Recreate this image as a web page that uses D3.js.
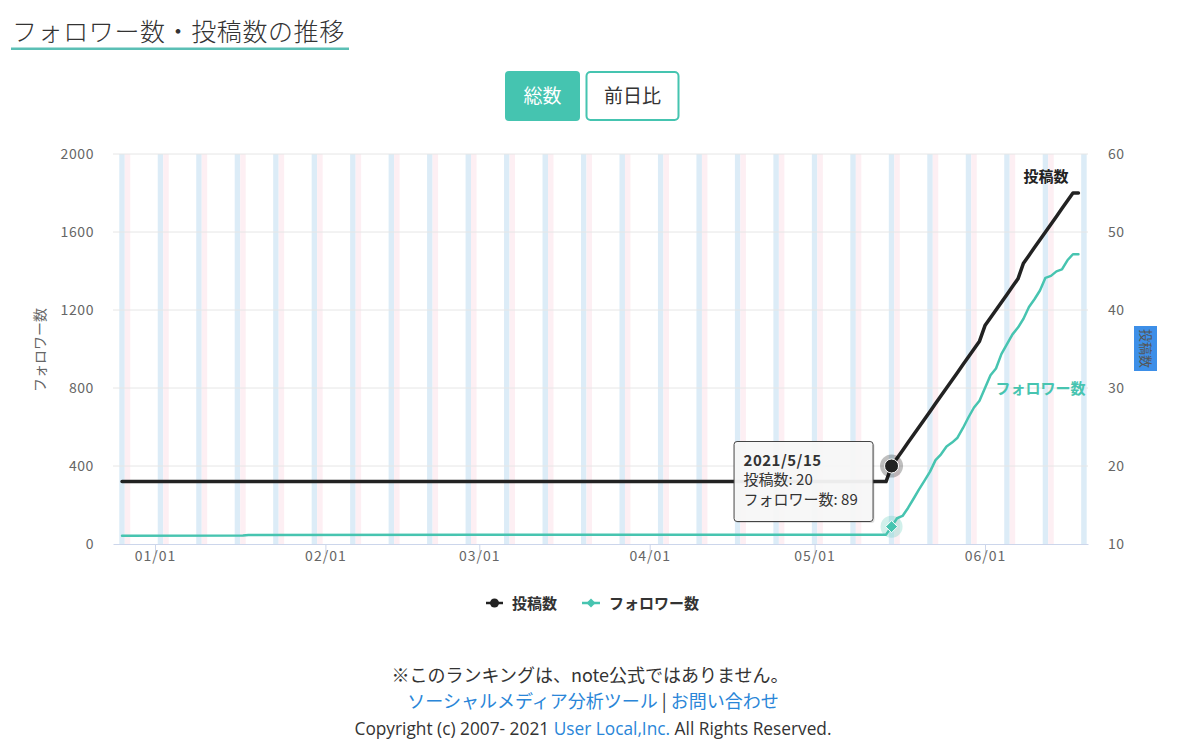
<!DOCTYPE html>
<html><head><meta charset="utf-8">
<script src="https://cdn.jsdelivr.net/npm/d3@7"></script>
<style>
html,body{margin:0;padding:0;background:#fff;}
svg{display:block;font-family:"Noto Sans CJK JP","Noto Sans",sans-serif;}
</style></head>
<body>
<svg id="chart" width="1197" height="742"></svg>
<script>
// ---- data ----
const dates = ["2020-12-26","2021-01-17","2021-01-18","2021-03-01","2021-04-01","2021-05-14",
 "2021-05-15","2021-05-16","2021-05-17","2021-05-18","2021-05-19","2021-05-20","2021-05-21","2021-05-22",
 "2021-05-23","2021-05-24","2021-05-25","2021-05-26","2021-05-27","2021-05-28","2021-05-29","2021-05-30",
 "2021-05-31","2021-06-01","2021-06-02","2021-06-03","2021-06-04","2021-06-05","2021-06-06","2021-06-07",
 "2021-06-08","2021-06-09","2021-06-10","2021-06-11","2021-06-12","2021-06-13","2021-06-14","2021-06-15",
 "2021-06-16","2021-06-17","2021-06-18"];
const posts = [18,18,18,18,18,18,
 20,21,22,23,24,25,26,27,28,29,30,31,32,33,34,35,36,
 38,39,40,41,42,43,44,
 46,47,48,49,50,51,52,53,54,55,55];
const followers = [42,43,46,47,48,48,
 89,132,144,185,232,280,325,371,430,460,500,520,545,595,650,700,735,
 800,865,900,975,1025,1075,1110,1155,1215,1255,1300,1365,1375,1398,1408,1455,1486,1486];
const leftTicks = [0,400,800,1200,1600,2000];
const rightTicks = [10,20,30,40,50,60];
const seriesNames = ["投稿数","フォロワー数"];
const tooltipDate = "2021-05-15";

// ---- setup ----
const parse = d3.timeParse("%Y-%m-%d");
const data = dates.map((d,i)=>({date:parse(d), posts:posts[i], followers:followers[i]}));
const svg = d3.select("#chart");
const L=113, R=1088, T=154, B=544;
const BLACK="#222222", TEAL="#47c4b0";
const TICKFONT="'Noto Sans CJK JP',sans-serif";

const x = d3.scaleTime()
  .domain([new Date(2020,11,24,8,37), new Date(2021,5,19,17,45)])
  .range([L,R]);
const yL = d3.scaleLinear().domain([0,2000]).range([B,T]);
const yR = d3.scaleLinear().domain([10,60]).range([B,T]);

// title
svg.append("text").attr("x",12).attr("y",41).attr("font-size",25).attr("font-weight",300).attr("fill","#333")
  .attr("letter-spacing","0.6px").text("フォロワー数・投稿数の推移");
svg.append("rect").attr("x",11).attr("y",47.5).attr("width",338).attr("height",2.5).attr("fill","#5bbfb5");

// buttons
svg.append("rect").attr("x",505).attr("y",71).attr("width",75).attr("height",50).attr("rx",4).attr("fill","#45c4b0");
svg.append("text").attr("x",542.5).attr("y",103).attr("text-anchor","middle").attr("font-size",19).attr("fill","#fff").text("総数");
svg.append("rect").attr("x",586.5).attr("y",72).attr("width",92).attr("height",48).attr("rx",4).attr("fill","#fff")
  .attr("stroke","#45c4b0").attr("stroke-width",2);
svg.append("text").attr("x",632.5).attr("y",103).attr("text-anchor","middle").attr("font-size",19).attr("fill","#333").text("前日比");

// weekend bands
const g = svg.append("g");
const days = d3.timeDay.range(d3.timeDay.floor(x.domain()[0]), x.domain()[1]);
days.forEach(d=>{
  const wd = d.getDay();
  if(wd!==6 && wd!==0) return;
  let x0 = x(new Date(+d - 12*3600e3)), x1 = x(new Date(+d + 12*3600e3));
  x0 = Math.max(L,x0); x1 = Math.min(R,x1);
  if(x1<=x0) return;
  g.append("rect").attr("x",x0).attr("y",T).attr("width",x1-x0).attr("height",B-T)
    .attr("fill", wd===6 ? "#dcecf7" : "#fdeff3");
});

// grid
leftTicks.forEach(t=>{
  if(t===0) return;
  g.append("line").attr("x1",L).attr("x2",R).attr("y1",yL(t)).attr("y2",yL(t))
    .attr("stroke","#e6e6e6").attr("stroke-width",1);
});

// x axis
const xAxis = d3.axisBottom(x).ticks(d3.timeMonth.every(1)).tickFormat(d3.timeFormat("%m/%d")).tickSize(10).tickSizeOuter(0);
const xg = svg.append("g").attr("transform",`translate(0,${B})`).call(xAxis);
xg.select(".domain").attr("stroke","#ccd6eb");
xg.selectAll(".tick line").attr("stroke","#ccd6eb");
xg.selectAll(".tick text").attr("font-size",14).attr("fill","#666").attr("letter-spacing","1px")
  .attr("font-family",TICKFONT).attr("dy","0.2em").attr("y",14);

// left axis
const lg = svg.append("g").attr("transform",`translate(${L},0)`)
  .call(d3.axisLeft(yL).tickValues(leftTicks).tickFormat(d3.format("d")).tickSize(0).tickPadding(19));
lg.select(".domain").remove();
lg.selectAll(".tick text").attr("font-size",14).attr("fill","#666").attr("letter-spacing","0.6px")
  .attr("font-family",TICKFONT);
// right axis
const rg = svg.append("g").attr("transform",`translate(${R},0)`)
  .call(d3.axisRight(yR).tickValues(rightTicks).tickFormat(d3.format("d")).tickSize(0).tickPadding(20));
rg.select(".domain").remove();
rg.selectAll(".tick text").attr("font-size",14).attr("fill","#666").attr("letter-spacing","0.6px")
  .attr("font-family",TICKFONT);

// axis titles
svg.append("text").attr("transform","translate(45,350) rotate(-90)").attr("text-anchor","middle")
  .attr("font-size",14).attr("fill","#666").text("フォロワー数");
svg.append("rect").attr("x",1134).attr("y",326).attr("width",23).attr("height",45).attr("fill","#3d8fe8");
svg.append("text").attr("transform","translate(1141,348.5) rotate(90)").attr("text-anchor","middle")
  .attr("font-size",13).attr("fill","#555").text("投稿数");

// lines
const lineF = d3.line().x(d=>x(d.date)).y(d=>yL(d.followers));
const lineP = d3.line().x(d=>x(d.date)).y(d=>yR(d.posts));
svg.append("path").datum(data).attr("d",lineF).attr("fill","none").attr("stroke",TEAL)
  .attr("stroke-width",2.5).attr("stroke-linejoin","round").attr("stroke-linecap","round");
svg.append("path").datum(data).attr("d",lineP).attr("fill","none").attr("stroke",BLACK)
  .attr("stroke-width",3.5).attr("stroke-linejoin","round").attr("stroke-linecap","round");

// series end labels
const last = data[data.length-1];
svg.append("text").attr("x",x(last.date)-10).attr("y",yR(last.posts)-11).attr("text-anchor","end")
  .attr("font-size",15).attr("font-weight","bold").attr("fill","#222").text(seriesNames[0]);
svg.append("text").attr("x",x(last.date)+7).attr("y",yL(800)+6).attr("text-anchor","end")
  .attr("font-size",15).attr("font-weight","bold").attr("fill",TEAL).text(seriesNames[1]);

// hover markers
const hd = data.find(d=>+d.date===+parse(tooltipDate));
const hx = x(hd.date);
svg.append("circle").attr("cx",hx).attr("cy",yL(hd.followers)).attr("r",11).attr("fill",TEAL).attr("opacity",0.25);
svg.append("path").attr("transform",`translate(${hx},${yL(hd.followers)})`)
  .attr("d","M0,-6L6,0L0,6L-6,0Z").attr("fill",TEAL).attr("stroke","#fff").attr("stroke-width",1);
svg.append("circle").attr("cx",hx).attr("cy",yR(hd.posts)).attr("r",11.5).attr("fill","#000").attr("opacity",0.25);
svg.append("circle").attr("cx",hx).attr("cy",yR(hd.posts)).attr("r",7).attr("fill",BLACK).attr("stroke","#fff").attr("stroke-width",1);

// tooltip
const tt = svg.append("g").attr("transform",`translate(${hx-158},441)`);
tt.append("rect").attr("x",2).attr("y",2).attr("width",139).attr("height",80).attr("rx",3).attr("fill","#000").attr("opacity",0.12);
tt.append("rect").attr("x",0.5).attr("y",0.5).attr("width",139).attr("height",80).attr("rx",3)
  .attr("fill","rgba(248,248,248,0.95)").attr("stroke","#444").attr("stroke-width",1);
const [yy,mm,dd] = tooltipDate.split("-").map(Number);
tt.append("text").attr("x",10).attr("y",25).attr("font-size",15).attr("font-weight","bold").attr("fill","#333")
  .attr("letter-spacing","0.5px").text(`${yy}/${mm}/${dd}`);
tt.append("text").attr("x",10).attr("y",44).attr("font-size",15).attr("fill","#333").text(`${seriesNames[0]}: ${hd.posts}`);
tt.append("text").attr("x",10).attr("y",64).attr("font-size",15).attr("fill","#333").text(`${seriesNames[1]}: ${hd.followers}`);

// legend
const lgd = svg.append("g");
lgd.append("line").attr("x1",486).attr("x2",503).attr("y1",603).attr("y2",603).attr("stroke",BLACK).attr("stroke-width",2.5);
lgd.append("circle").attr("cx",494.5).attr("cy",603).attr("r",4.5).attr("fill",BLACK);
lgd.append("text").attr("x",512).attr("y",608.5).attr("font-size",15).attr("font-weight","bold").attr("fill","#333").text(seriesNames[0]);
lgd.append("line").attr("x1",582).attr("x2",600).attr("y1",603).attr("y2",603).attr("stroke",TEAL).attr("stroke-width",2.5);
lgd.append("path").attr("transform","translate(591,603)").attr("d","M0,-4.5L4.5,0L0,4.5L-4.5,0Z").attr("fill",TEAL);
lgd.append("text").attr("x",609).attr("y",608.5).attr("font-size",15).attr("font-weight","bold").attr("fill","#333").text(seriesNames[1]);

// footer
const LINK="#2a86d8";
svg.append("text").attr("x",590).attr("y",682).attr("text-anchor","middle").attr("font-size",18).attr("fill","#333")
  .text("※このランキングは、note公式ではありません。");
const f2 = svg.append("text").attr("x",593).attr("y",708).attr("text-anchor","middle").attr("font-size",18);
f2.append("tspan").attr("fill",LINK).text("ソーシャルメディア分析ツール");
f2.append("tspan").attr("fill","#333").text(" | ");
f2.append("tspan").attr("fill",LINK).text("お問い合わせ");
const f3 = svg.append("text").attr("x",593).attr("y",735).attr("text-anchor","middle").attr("font-size",17.3)
  .attr("font-family","'Open Sans','Noto Sans',sans-serif");
f3.append("tspan").attr("fill","#333").text("Copyright (c) 2007- 2021 ");
f3.append("tspan").attr("fill",LINK).text("User Local,Inc.");
f3.append("tspan").attr("fill","#333").text(" All Rights Reserved.");
</script>
</body></html>
